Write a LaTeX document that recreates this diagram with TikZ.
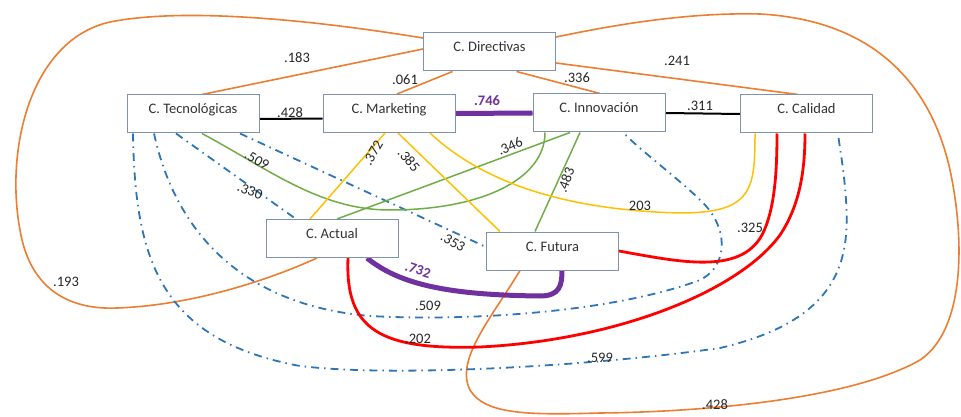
\documentclass[tikz,border=0pt]{standalone}
\usepackage{fontspec}
\setmainfont{Carlito}
\usetikzlibrary{backgrounds}
\definecolor{orng}{HTML}{ED7D31}
\definecolor{blu}{HTML}{2E75B6}
\definecolor{grn}{HTML}{70AD47}
\definecolor{ylw}{HTML}{FFC000}
\definecolor{rd}{HTML}{FF0000}
\definecolor{prp}{HTML}{7030A0}
\definecolor{bordr}{HTML}{7F93B0}
\definecolor{txt}{HTML}{333333}
\tikzset{
 cbox/.style={draw=bordr, line width=1pt, fill=white, minimum width=132pt, text height=15pt, text depth=15pt, inner ysep=4pt, inner xsep=2pt, font=\fontsize{14.5}{16}\selectfont, text=txt},
 lbl/.style={font=\fontsize{14.5}{16}\selectfont, text=black!85, inner sep=0pt},
 orl/.style={draw=orng, line width=1.6pt},
 bdl/.style={draw=blu, line width=1.8pt, dash pattern=on 8pt off 5pt on 1.5pt off 5pt},
 gl/.style={draw=grn, line width=1.5pt},
 yl/.style={draw=ylw, line width=1.5pt},
 rl/.style={draw=rd, line width=2.8pt},
 pl/.style={draw=prp, line width=5pt},
 bl/.style={draw=black, line width=2pt},
}
\begin{document}
\begin{tikzpicture}[x=1pt,y=-1pt]
\useasboundingbox (0,0) rectangle (961,417);
\node[cbox] (dir) at (489.5,52) {C. Directivas};
\node[cbox] (tec) at (193,114) {C. Tecnológicas};
\node[cbox] (mkt) at (389,113.5) {C. Marketing};
\node[cbox] (inn) at (599,113) {C. Innovación};
\node[cbox] (cal) at (806.5,114) {C. Calidad};
\node[cbox] (act) at (332,238.5) {C. Actual};
\node[cbox] (fut) at (552.5,251) {C. Futura};

\begin{scope}[on background layer]
% orange
\draw[orl] ([yshift=3pt]dir.west) -- ([xshift=9pt]tec.north);
\draw[orl] ([xshift=-37pt]dir.south) -- ([xshift=8pt]mkt.north);
\draw[orl] ([xshift=27pt]dir.south) -- ([xshift=1pt]inn.north);
\draw[orl] ([yshift=-11pt]dir.east) -- ([xshift=-8.5pt]cal.north);
\draw[orl] ([yshift=14pt]dir.west) .. controls (300,18) and (180,8) .. (110,22)
  .. controls (30,40) and (5,150) .. (20,230)
  .. controls (30,290) and (70,310) .. (117,308)
  .. controls (200,305) and (280,275) .. ([xshift=-15pt]act.south);
\draw[orl] ([xshift=-32.5pt]fut.south) .. controls (490,320) and (455,360) .. (470,390)
  .. controls (485,415) and (530,415) .. (600,413)
  .. controls (700,412) and (850,400) .. (920,360)
  .. controls (965,330) and (965,240) .. (950,170)
  .. controls (930,80) and (870,20) .. (760,14)
  .. controls (680,12) and (600,28) .. ([yshift=15pt]dir.east);
% black / purple straight
\draw[bl] ([yshift=-5pt]tec.east) -- ([yshift=-5pt]mkt.west);
\draw[pl] (mkt.east) -- (inn.west);
\draw[bl] (inn.east) -- (cal.west);
% blue dash-dot
\draw[bdl] ([xshift=-60pt]tec.south) .. controls (135,260) and (160,340) .. (300,366)
  .. controls (400,378) and (600,365) .. (720,348)
  .. controls (840,320) and (850,260) .. (846,200)
  .. controls (844,170) and (840,150) .. ([xshift=31.5pt]cal.south);
\draw[bdl] ([xshift=-39pt]tec.south) .. controls (175,230) and (240,305) .. (370,316)
  .. controls (480,322) and (620,310) .. (700,280)
  .. controls (730,265) and (728,225) .. (700,200)
  .. controls (680,180) and (640,150) .. ([xshift=24pt]inn.south);
\draw[bdl] ([xshift=-17pt]tec.south) -- ([xshift=-36pt]act.north);
\draw[bdl] ([xshift=47pt]tec.south) -- ([yshift=4pt]fut.west);
% green
\draw[gl] ([xshift=9pt]tec.south) .. controls (270,170) and (320,210) .. (390,210)
  .. controls (480,210) and (545,180) .. ([xshift=-54pt]inn.south);
\draw[gl] ([xshift=5pt]act.north) -- ([xshift=-29pt]inn.south);
\draw[gl] ([xshift=-19pt]inn.south) -- ([xshift=-17.5pt]fut.north);
% yellow
\draw[yl] ([xshift=-4pt]mkt.south) -- ([xshift=-22pt]act.north);
\draw[yl] ([xshift=9pt]mkt.south) -- ([xshift=-52.5pt]fut.north);
\draw[yl] ([xshift=41pt]mkt.south) .. controls (480,180) and (560,210) .. (680,213)
  .. controls (752,213) and (755,190) .. ([xshift=-51.5pt]cal.south);
% red
\draw[rl] (fut.east) .. controls (680,262) and (740,275) .. (762,235)
  .. controls (775,210) and (777,170) .. ([xshift=-29.5pt]cal.south);
\draw[rl] ([xshift=16pt]act.south) .. controls (345,330) and (380,350) .. (480,347)
  .. controls (620,340) and (740,290) .. (780,235)
  .. controls (800,205) and (805,170) .. ([xshift=-1.5pt]cal.south);
% purple
\draw[pl] ([xshift=35pt]act.south) .. controls (400,285) and (450,295) .. (540,296)
  .. controls (560,296) and (562,285) .. ([xshift=9.5pt]fut.south);
\end{scope}

% labels
\node[lbl] (l183) at (297,58) {.183};
\node[lbl] (l061) at (405,80) {.061};
\node[lbl] (l336) at (577,78) {.336};
\node[lbl] (l241) at (677,61) {.241};
\node[lbl] (l193) at (66,282) {.193};
\node[lbl] (l428b) at (715,405) {.428};
\node[lbl] (l428) at (290,113) {.428};
\node[lbl, text=prp, font=\fontsize{14.5}{16}\selectfont\bfseries] (l746) at (487,101) {.746};
\node[lbl] (l311) at (700,106) {.311};
\node[lbl] (l599) at (600,358) {.599};
\node[lbl] (l509b) at (428,306) {.509};
\node[lbl, rotate=-20] (l330) at (250,191) {.330};
\node[lbl, rotate=-30] (l353) at (453,242) {.353};
\node[lbl, rotate=-30] (l509) at (257,160) {.509};
\node[lbl, rotate=25] (l346) at (510,146) {.346};
\node[lbl, rotate=70] (l483) at (566,180) {.483};
\node[lbl, rotate=60] (l372) at (373,153) {.372};
\node[lbl, rotate=-50] (l385) at (409,160) {.385};
\node[lbl] (l203) at (640,206) {203};
\node[lbl] (l325) at (750,228) {.325};
\node[lbl] (l202) at (418,339) {.202};
\node[lbl, rotate=-18, text=prp, font=\fontsize{14.5}{16}\selectfont\bfseries] (l732) at (418,270) {.732};
\end{tikzpicture}
\end{document}
